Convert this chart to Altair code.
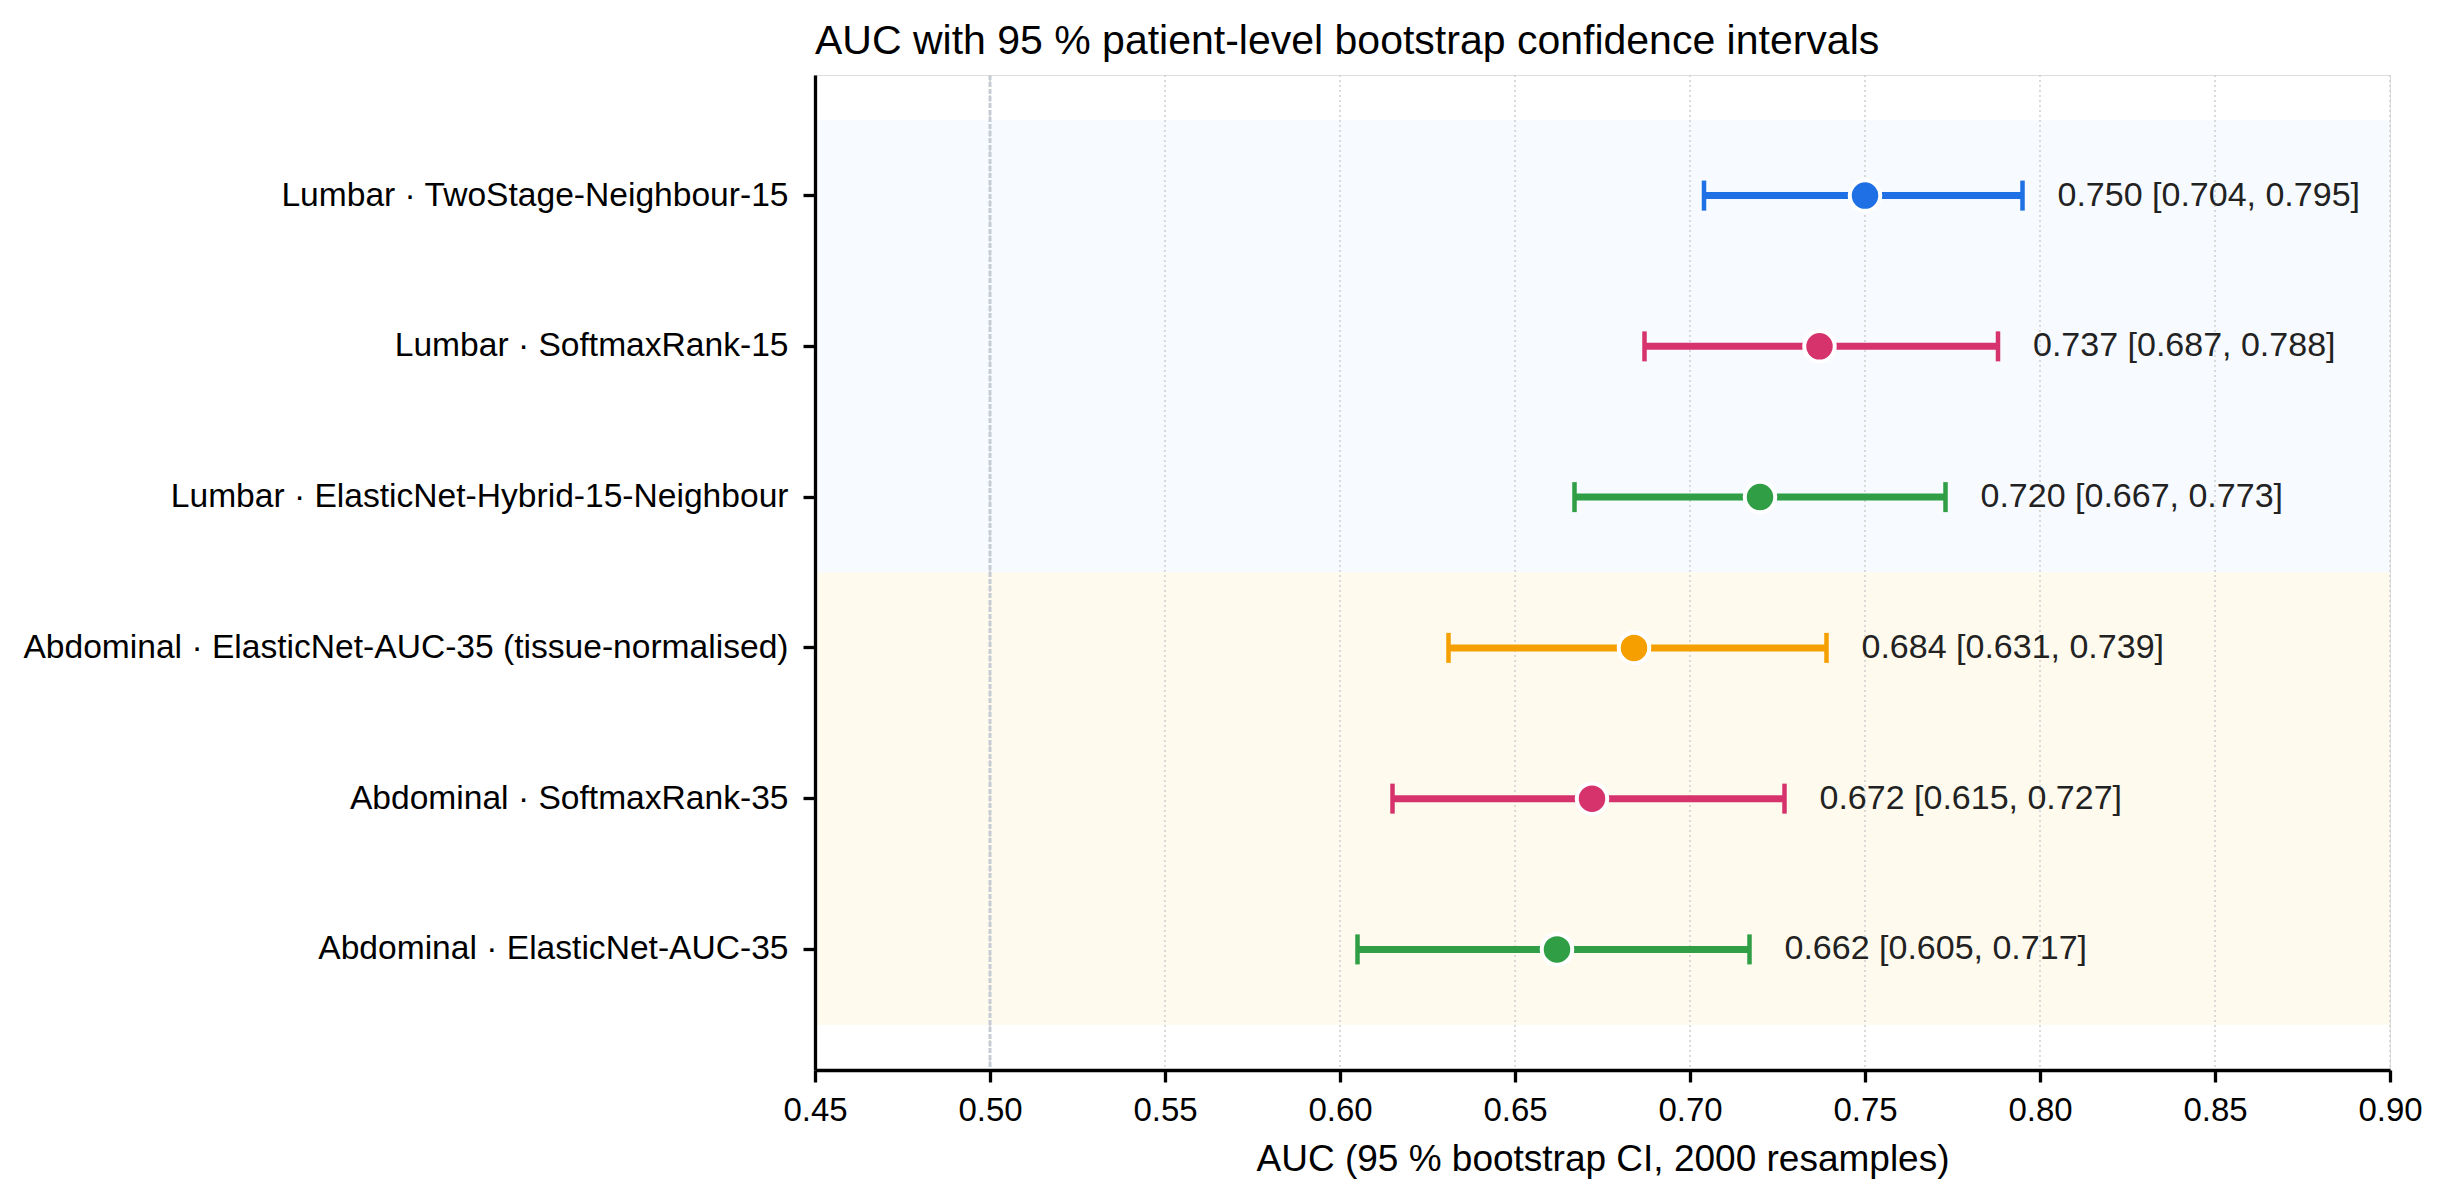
import altair as alt
import pandas as pd

# ---- data ----
MODELS = [
    "Lumbar · TwoStage-Neighbour-15",
    "Lumbar · SoftmaxRank-15",
    "Lumbar · ElasticNet-Hybrid-15-Neighbour",
    "Abdominal · ElasticNet-AUC-35 (tissue-normalised)",
    "Abdominal · SoftmaxRank-35",
    "Abdominal · ElasticNet-AUC-35",
]
AUC = [0.750, 0.737, 0.720, 0.684, 0.672, 0.662]
CI_LO = [0.704, 0.687, 0.667, 0.631, 0.615, 0.605]
CI_HI = [0.795, 0.788, 0.773, 0.739, 0.727, 0.717]
SITE = ["Lumbar", "Lumbar", "Lumbar", "Abdominal", "Abdominal", "Abdominal"]
FAMILY = ["TwoStage", "SoftmaxRank", "ElasticNet", "ElasticNet (tissue-normalised)",
          "SoftmaxRank", "ElasticNet"]

X_DOMAIN = [0.45, 0.90]
X_TICKS = [0.45, 0.50, 0.55, 0.60, 0.65, 0.70, 0.75, 0.80, 0.85, 0.90]
CHANCE_AUC = 0.50

FAMILY_COLORS = {
    "TwoStage": "#1f6fe5",
    "SoftmaxRank": "#d6336c",
    "ElasticNet": "#2f9e44",
    "ElasticNet (tissue-normalised)": "#f59f00",
}
SITE_COLORS = {"Lumbar": "#f7faff", "Abdominal": "#fefaee"}

FONT = "Liberation Sans"

df = pd.DataFrame({
    "model": MODELS, "auc": AUC, "lo": CI_LO, "hi": CI_HI,
    "site": SITE, "family": FAMILY,
})
df["xmin"] = X_DOMAIN[0]
df["xmax"] = X_DOMAIN[1]
ticks_df = pd.DataFrame({"t": X_TICKS})
ref_df = pd.DataFrame({"r": [CHANCE_AUC]})

W, H = 1575, 995

xscale = alt.Scale(domain=X_DOMAIN, nice=False, zero=False)
yscale = alt.Scale(type="band", domain=MODELS, paddingInner=0, paddingOuter=0.3)

color_enc = alt.Color("family:N", legend=None,
                      scale=alt.Scale(domain=list(FAMILY_COLORS.keys()),
                                      range=list(FAMILY_COLORS.values())))

x_axis = alt.Axis(values=X_TICKS, format=".2f", title="AUC (95 % bootstrap CI, 2000 resamples)",
                  grid=False, domainColor="black", domainWidth=3.3, tickColor="black",
                  tickWidth=3.3, tickSize=12, labelFontSize=33, labelColor="black",
                  labelPadding=12, labelFlush=False, labelOverlap=False,
                  labelFont=FONT, titleFont=FONT, titleFontSize=37,
                  titleFontWeight="normal", titleColor="black", titlePadding=14, zindex=1)
y_axis = alt.Axis(title=None, grid=False, domainColor="black", domainWidth=3.3,
                  tickColor="black", tickWidth=3.3, tickSize=12, labelFontSize=33.6,
                  labelColor="black", labelPadding=15, labelFont=FONT, labelLimit=2000,
                  zindex=1)

base = alt.Chart(df)

bands = base.mark_rect().encode(
    x=alt.X("xmin:Q", scale=xscale, axis=x_axis),
    x2="xmax:Q",
    y=alt.Y("model:N", scale=yscale, axis=y_axis, sort=MODELS),
    fill=alt.Fill("site:N", legend=None,
                  scale=alt.Scale(domain=list(SITE_COLORS.keys()),
                                  range=list(SITE_COLORS.values()))),
)

grid = alt.Chart(ticks_df).mark_rule(color="#d2d2d2", strokeWidth=1.6, strokeDash=[2, 3]).encode(
    x=alt.X("t:Q", scale=xscale),
)

ref = alt.Chart(ref_df).mark_rule(color="#c6ccd4", strokeWidth=3, strokeDash=[5, 2]).encode(
    x=alt.X("r:Q", scale=xscale),
)

whisk = base.mark_rule(strokeWidth=7).encode(
    x=alt.X("lo:Q", scale=xscale),
    x2="hi:Q",
    y=alt.Y("model:N", scale=yscale, sort=MODELS),
    color=color_enc,
)

caps = base.transform_fold(["lo", "hi"], as_=["end", "val"]).mark_tick(
    size=30, thickness=4.5, opacity=1
).encode(
    x=alt.X("val:Q", scale=xscale),
    y=alt.Y("model:N", scale=yscale, sort=MODELS),
    color=color_enc,
)

dots = base.mark_circle(size=930, stroke="white", strokeWidth=4, opacity=1).encode(
    x=alt.X("auc:Q", scale=xscale),
    y=alt.Y("model:N", scale=yscale, sort=MODELS),
    color=color_enc,
)

labels = base.transform_calculate(
    txt="format(datum.auc, '.3f') + ' [' + format(datum.lo, '.3f') + ', ' + format(datum.hi, '.3f') + ']'"
).mark_text(align="left", baseline="middle", dx=35, fontSize=34, font=FONT, color="#222222").encode(
    x=alt.X("hi:Q", scale=xscale),
    y=alt.Y("model:N", scale=yscale, sort=MODELS),
    text="txt:N",
)

chart = alt.layer(bands, grid, ref, whisk, caps, dots, labels).resolve_scale(
    color="independent", fill="independent"
).properties(
    width=W, height=H,
    title=alt.TitleParams(
        "AUC with 95 % patient-level bootstrap confidence intervals",
        anchor="start", frame="group", fontSize=41, fontWeight="normal",
        font=FONT, color="black", offset=11,
    ),
    autosize=alt.AutoSizeParams(type="none"),
    padding={"left": 807, "top": 67, "right": 45, "bottom": 125},
).configure_view(stroke=None).configure(background="white")

chart.save("out.html", embed_options={"renderer": "svg", "actions": False})
